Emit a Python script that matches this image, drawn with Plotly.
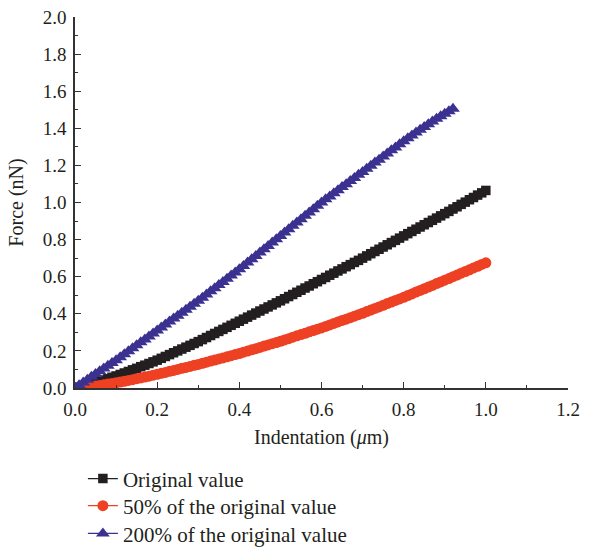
import plotly.graph_objects as go

# Indentation grid (um), sampled every 0.01
indentation = [i / 100 for i in range(101)]
indentation_200 = [i / 100 for i in range(93)]

# Force (nN) for the original stiffness
force_original = [
    0.000, 0.005, 0.011, 0.017, 0.023, 0.030, 0.036, 0.043, 0.050, 0.058,
    0.065, 0.073, 0.081, 0.089, 0.098, 0.106, 0.115, 0.123, 0.132, 0.141,
    0.150, 0.160, 0.170, 0.180, 0.190, 0.200, 0.210, 0.220, 0.230, 0.240,
    0.250, 0.261, 0.272, 0.283, 0.294, 0.305, 0.316, 0.327, 0.338, 0.349,
    0.360, 0.371, 0.382, 0.393, 0.404, 0.415, 0.426, 0.437, 0.448, 0.459,
    0.470, 0.481, 0.493, 0.504, 0.516, 0.527, 0.539, 0.550, 0.562, 0.573,
    0.585, 0.596, 0.608, 0.619, 0.631, 0.642, 0.654, 0.665, 0.677, 0.688,
    0.700, 0.712, 0.724, 0.736, 0.748, 0.760, 0.772, 0.784, 0.796, 0.808,
    0.820, 0.832, 0.844, 0.856, 0.868, 0.880, 0.892, 0.904, 0.916, 0.928,
    0.940, 0.952, 0.965, 0.977, 0.990, 1.002, 1.015, 1.027, 1.040, 1.052,
    1.065,
]

# Force (nN) at 50% of the original value
force_50 = [
    0.000, 0.001, 0.003, 0.005, 0.008, 0.011, 0.014, 0.017, 0.021, 0.024,
    0.028, 0.032, 0.036, 0.041, 0.045, 0.050, 0.054, 0.059, 0.064, 0.069,
    0.074, 0.079, 0.084, 0.090, 0.095, 0.100, 0.106, 0.111, 0.116, 0.122,
    0.127, 0.133, 0.139, 0.145, 0.151, 0.157, 0.162, 0.168, 0.174, 0.180,
    0.186, 0.193, 0.199, 0.206, 0.212, 0.219, 0.226, 0.232, 0.239, 0.245,
    0.252, 0.259, 0.266, 0.274, 0.281, 0.288, 0.295, 0.303, 0.310, 0.317,
    0.324, 0.332, 0.340, 0.348, 0.356, 0.364, 0.371, 0.379, 0.387, 0.395,
    0.403, 0.412, 0.420, 0.429, 0.437, 0.446, 0.455, 0.463, 0.472, 0.480,
    0.489, 0.498, 0.507, 0.517, 0.526, 0.535, 0.544, 0.553, 0.563, 0.572,
    0.581, 0.590, 0.600, 0.609, 0.619, 0.628, 0.637, 0.647, 0.656, 0.666,
    0.675,
]

# Force (nN) at 200% of the original value
force_200 = [
    0.000, 0.015, 0.030, 0.045, 0.060, 0.075, 0.090, 0.105, 0.120, 0.135,
    0.150, 0.166, 0.182, 0.198, 0.214, 0.230, 0.246, 0.262, 0.278, 0.294,
    0.310, 0.326, 0.342, 0.358, 0.374, 0.390, 0.406, 0.422, 0.438, 0.454,
    0.470, 0.487, 0.504, 0.521, 0.538, 0.555, 0.572, 0.589, 0.606, 0.623,
    0.640, 0.658, 0.676, 0.694, 0.712, 0.730, 0.748, 0.766, 0.784, 0.802,
    0.820, 0.838, 0.856, 0.874, 0.892, 0.910, 0.928, 0.946, 0.964, 0.982,
    1.000, 1.017, 1.033, 1.050, 1.066, 1.083, 1.099, 1.116, 1.132, 1.149,
    1.165, 1.182, 1.198, 1.215, 1.231, 1.248, 1.264, 1.281, 1.297, 1.314,
    1.330, 1.346, 1.361, 1.377, 1.392, 1.407, 1.422, 1.436, 1.451, 1.465,
    1.479, 1.492, 1.505,
]

series_names = [
    "Original value",
    "50% of the original value",
    "200% of the original value",
]

FONT = "Liberation Serif, Times New Roman, serif"
TEXT = "#231f20"
BLACK = "#231f20"
RED = "#ee4023"
BLUE = "#3a3190"
AXIS = "#333333"

fig = go.Figure()

fig.add_trace(go.Scatter(
    x=indentation, y=force_original, name=series_names[0],
    mode="lines+markers", showlegend=True,
    line=dict(color=BLACK, width=1.2),
    marker=dict(symbol="square", size=9.5, color=BLACK),
    legend="legend",
))
fig.add_trace(go.Scatter(
    x=indentation, y=force_50, name=series_names[1],
    mode="lines+markers", showlegend=True,
    line=dict(color=RED, width=1.2),
    marker=dict(symbol="circle", size=11, color=RED),
    legend="legend2",
))
fig.add_trace(go.Scatter(
    x=indentation_200, y=force_200, name=series_names[2],
    mode="lines+markers", showlegend=True,
    line=dict(color=BLUE, width=1.2),
    marker=dict(symbol="triangle-up", size=12, color=BLUE),
    legend="legend3",
))

axis_common = dict(
    showline=True, linecolor=AXIS, linewidth=1.5,
    ticks="inside", ticklen=6, tickwidth=1.2, tickcolor=AXIS,
    showgrid=False, zeroline=False, mirror=False,
    tickfont=dict(family=FONT, size=19, color=TEXT),
    minor=dict(ticks="inside", ticklen=3, tickwidth=1.2, tickcolor=AXIS, dtick=0.1, showgrid=False),
)

fig.update_xaxes(
    range=[0, 1.2], dtick=0.2, tick0=0, tickformat=".1f", ticklabelstandoff=3,
    title=dict(text="Indentation (<i>\u03bc</i>m)", font=dict(family=FONT, size=20, color=TEXT), standoff=11),
    **axis_common,
)
fig.update_yaxes(
    range=[0, 2.0], dtick=0.2, tick0=0, tickformat=".1f", ticklabelstandoff=3,
    title=dict(text="Force (nN)", font=dict(family=FONT, size=20, color=TEXT), standoff=14),
    **axis_common,
)

legend_common = dict(
    font=dict(family=FONT, size=21, color=TEXT),
    bgcolor="rgba(0,0,0,0)", borderwidth=0,
    xanchor="left", yanchor="middle", x=0.016,
    itemwidth=30,
)

fig.update_layout(
    width=589, height=550,
    showlegend=True,
    margin=dict(l=75, r=21, t=17, b=162, autoexpand=False),
    plot_bgcolor="white", paper_bgcolor="white",
    font=dict(family=FONT, size=19, color=TEXT),
    legend=dict(y=-0.245, **legend_common),
    legend2=dict(y=-0.318, **legend_common),
    legend3=dict(y=-0.393, **legend_common),
)

fig.write_html("out.html")
